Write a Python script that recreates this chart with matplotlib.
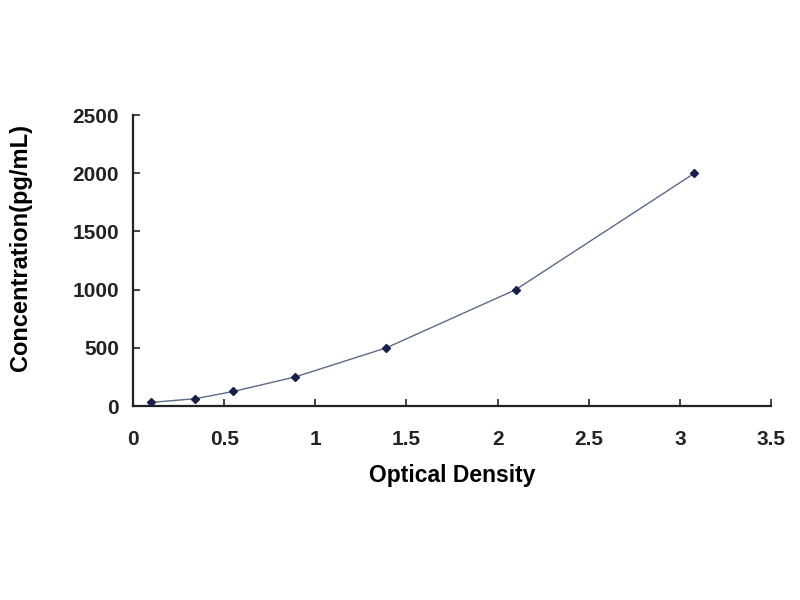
import matplotlib
matplotlib.use("Agg")
import matplotlib.pyplot as plt

od = [0.10, 0.34, 0.55, 0.89, 1.39, 2.10, 3.08]
conc = [31.25, 62.5, 125, 250, 500, 1000, 2000]
x_ticks = [0, 0.5, 1, 1.5, 2, 2.5, 3, 3.5]
x_labels = ["0", "0.5", "1", "1.5", "2", "2.5", "3", "3.5"]
y_ticks = [0, 500, 1000, 1500, 2000, 2500]
y_labels = ["0", "500", "1000", "1500", "2000", "2500"]

plt.rcParams['font.family'] = ['Liberation Sans', 'DejaVu Sans']

fig = plt.figure(figsize=(8, 6), dpi=100)
ax = fig.add_axes([0.16625, 0.3233, 0.7975, 0.485])

ax.plot(od, conc, color='#5a6a8a', lw=1.0, zorder=2)
ax.plot(od, conc, linestyle='none', marker='D', markersize=4.5,
        color='#1a1f4a', zorder=3)

ax.set_xlim(0, 3.5)
ax.set_ylim(0, 2500)
ax.set_xticks(x_ticks)
ax.set_xticklabels(x_labels)
ax.set_yticks(y_ticks)
ax.set_yticklabels(y_labels)

for s in ['top', 'right']:
    ax.spines[s].set_visible(False)
for s in ['left', 'bottom']:
    ax.spines[s].set_linewidth(1.6)
    ax.spines[s].set_color('#222222')

ax.tick_params(direction='in', length=5, width=1.2, colors='#222222',
               labelsize=15)
ax.tick_params(axis='x', pad=17)
ax.tick_params(axis='y', pad=10)
for lab in ax.get_xticklabels() + ax.get_yticklabels():
    lab.set_fontweight('bold')

ax.set_xlabel('Optical Density', fontsize=16.5, fontweight='bold', labelpad=11)
ax.set_ylabel('Concentration(pg/mL)', fontsize=17, fontweight='bold')
ax.yaxis.set_label_coords(-0.158, 0.545)

fig.savefig('out.png', dpi=100)
